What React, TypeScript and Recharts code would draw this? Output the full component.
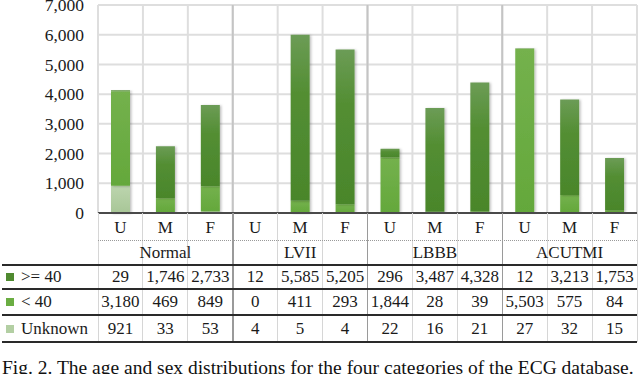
import { BarChart, Bar, XAxis, YAxis, CartesianGrid } from 'recharts';

const groups = ['Normal', 'LVII', 'LBBB', 'ACUTMI'];
const sexes = ['U', 'M', 'F'];
const over40 = [29, 1746, 2733, 12, 5585, 5205, 296, 3487, 4328, 12, 3213, 1753];
const under40 = [3180, 469, 849, 0, 411, 293, 1844, 28, 39, 5503, 575, 84];
const unknown = [921, 33, 53, 4, 5, 4, 22, 16, 21, 27, 32, 15];
const yTicks = [0, 1000, 2000, 3000, 4000, 5000, 6000, 7000];

const data = over40.map((v, i) => ({
  key: `${groups[Math.floor(i / 3)]}-${sexes[i % 3]}`,
  over40: v,
  under40: under40[i],
  unknown: unknown[i],
}));

const tableRows = [
  { label: '>= 40', values: over40, swatch: '#4f8a30' },
  { label: '< 40', values: under40, swatch: '#6aad42' },
  { label: 'Unknown', values: unknown, swatch: '#b3cfa3' },
];

const FONT = '"Liberation Serif", "Times New Roman", serif';
const W = 640;
const H = 374;
const PLOT_LEFT = 98;
const PLOT_RIGHT = 637;
const COL_W = (PLOT_RIGHT - PLOT_LEFT) / 12;
const AXIS_Y = 213;
const fmt = (n: number) => n.toLocaleString('en-US');

// column borders (category + group) from the plot area the chart reports
const colLines = ({ offset }: any) => {
  const left = offset?.left ?? PLOT_LEFT;
  const width = offset?.width ?? PLOT_RIGHT - PLOT_LEFT;
  return Array.from({ length: 13 }, (_, i) => left + (i * width) / 12);
};
const groupLines = ({ offset }: any) => {
  const left = offset?.left ?? PLOT_LEFT;
  const width = offset?.width ?? PLOT_RIGHT - PLOT_LEFT;
  return [3, 6, 9].map((i) => left + (i * width) / 12);
};

function Table() {
  const rowTops = [265, 289, 315];
  const rowH = [24, 26, 27];
  const hLines = [265, 289, 315, 342];
  return (
    <div style={{ position: 'absolute', left: 0, top: 0, width: W, height: H, pointerEvents: 'none', fontFamily: FONT, color: '#1a1a1a', fontSize: 17 }}>
      {/* vertical borders below the axis */}
      {Array.from({ length: 13 }, (_, i) => {
        const isGroup = i % 3 === 0 && i > 0 && i < 12;
        return (
          <div key={'v' + i} style={{ position: 'absolute', left: PLOT_LEFT + i * COL_W - (isGroup ? 0.75 : 0.5), top: AXIS_Y, width: isGroup ? 1.5 : 1, height: 342 - AXIS_Y, background: isGroup ? '#9a9a9a' : '#d6d6d6' }} />
        );
      })}
      {/* dotted line under U/M/F */}
      <div style={{ position: 'absolute', left: PLOT_LEFT, top: 240, width: PLOT_RIGHT - PLOT_LEFT, height: 0, borderTop: '1px dotted #9a9a9a' }} />
      {hLines.map((y) => (
        <div key={'h' + y} style={{ position: 'absolute', left: 2, top: y - 1, width: PLOT_RIGHT - 2, height: 1.6, background: '#2a2a2a' }} />
      ))}
      {groups.map((g, gi) => (
        <div key={g} style={{ position: 'absolute', left: PLOT_LEFT + gi * 3 * COL_W, top: 241, width: 3 * COL_W, height: 24, lineHeight: '24px', textAlign: 'center' }}>{g}</div>
      ))}
      {tableRows.map((r, ri) => (
        <div key={r.label}>
          <div style={{ position: 'absolute', left: 6, top: rowTops[ri] + rowH[ri] / 2 - 4, width: 8, height: 8, background: r.swatch }} />
          <div style={{ position: 'absolute', left: 21, top: rowTops[ri], height: rowH[ri], lineHeight: rowH[ri] + 'px', whiteSpace: 'nowrap' }}>{r.label}</div>
          {r.values.map((v, i) => (
            <div key={i} style={{ position: 'absolute', left: PLOT_LEFT + i * COL_W, top: rowTops[ri], width: COL_W, height: rowH[ri], lineHeight: rowH[ri] + 'px', textAlign: 'center', whiteSpace: 'nowrap' }}>{fmt(v)}</div>
          ))}
        </div>
      ))}
      <div style={{ position: 'absolute', left: 2, top: 357.5, whiteSpace: 'nowrap', fontSize: 19.5, lineHeight: '20px', color: '#111' }}>
        Fig. 2. The age and sex distributions for the four categories of the ECG database.
      </div>
    </div>
  );
}

export default function App() {
  return (
    <div style={{ position: 'absolute', left: 0, top: 0, width: W, height: H, background: '#fff', overflow: 'hidden' }}>
      <BarChart width={W} height={240} data={data} margin={{ top: 5, right: W - PLOT_RIGHT, left: 0, bottom: 0 }} barSize={19}>
        <defs>
          <linearGradient id="gOver" x1="0" y1="0" x2="0" y2="1">
            <stop offset="0%" stopColor="#6c9c56" />
            <stop offset="35%" stopColor="#538e33" />
            <stop offset="100%" stopColor="#4a862b" />
          </linearGradient>
          <linearGradient id="gUnder" x1="0" y1="0" x2="0" y2="1">
            <stop offset="0%" stopColor="#74b14d" />
            <stop offset="100%" stopColor="#64a83b" />
          </linearGradient>
          <linearGradient id="gUnk" x1="0" y1="0" x2="0" y2="1">
            <stop offset="0%" stopColor="#bcd5ae" />
            <stop offset="100%" stopColor="#a8c697" />
          </linearGradient>
          <filter id="barShadow" x="-30%" y="-10%" width="160%" height="120%">
            <feDropShadow dx="1.5" dy="0.5" stdDeviation="1.2" floodColor="#000" floodOpacity="0.25" />
          </filter>
        </defs>
        <CartesianGrid stroke="#dedede" strokeWidth={2} verticalCoordinatesGenerator={colLines} />
        <CartesianGrid horizontal={false} stroke="#c4c4c4" strokeWidth={2} verticalCoordinatesGenerator={groupLines} />
        <XAxis
          dataKey="key"
          interval={0}
          height={27}
          tickLine={false}
          tickSize={0}
          tickMargin={8}
          axisLine={{ stroke: '#4a4a4a', strokeWidth: 2 }}
          tickFormatter={(v: string) => v.split('-')[1]}
          tick={{ fill: '#1a1a1a', fontSize: 17, fontFamily: FONT }}
        />
        <YAxis
          width={PLOT_LEFT}
          domain={[0, 7000]}
          ticks={yTicks}
          interval={0}
          axisLine={false}
          tickLine={false}
          tickSize={0}
          tickMargin={14}
          tickFormatter={fmt}
          tick={{ fill: '#1a1a1a', fontSize: 17.5, fontFamily: FONT }}
        />
        <Bar dataKey="unknown" stackId="a" fill="url(#gUnk)" filter="url(#barShadow)" isAnimationActive={false} />
        <Bar dataKey="under40" stackId="a" fill="url(#gUnder)" filter="url(#barShadow)" isAnimationActive={false} />
        <Bar dataKey="over40" stackId="a" fill="url(#gOver)" filter="url(#barShadow)" isAnimationActive={false} />
      </BarChart>
      <Table />
    </div>
  );
}
